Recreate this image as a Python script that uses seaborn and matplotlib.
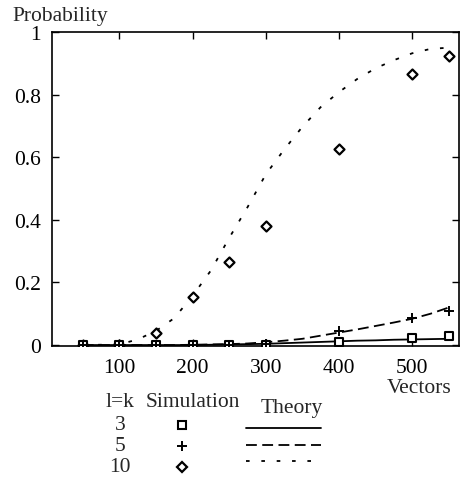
import numpy as np
import pandas as pd
import matplotlib
matplotlib.use("Agg")
import matplotlib.pyplot as plt
from matplotlib.lines import Line2D
import seaborn as sns

# ---- data ----
sim_x = [50, 100, 150, 200, 250, 300, 400, 500, 550]
sim_l3 = [0.0, 0.0, 0.0, 0.0, 0.0, 0.0, 0.010, 0.022, 0.030]
sim_l5 = [0.0, 0.0, 0.0, 0.0, 0.0, 0.003, 0.045, 0.086, 0.108]
sim_l10 = [0.0, 0.0, 0.038, 0.153, 0.265, 0.380, 0.625, 0.866, 0.923]

th_x = [50, 100, 125, 150, 175, 200, 225, 250, 275, 300, 325, 350, 375, 400,
        425, 450, 475, 500, 525, 550]
th_l3 = [0.0, 0.0, 0.0, 0.0, 0.0, 0.0, 0.001, 0.002, 0.003, 0.004, 0.006, 0.008,
         0.010, 0.012, 0.014, 0.015, 0.017, 0.018, 0.019, 0.020]
th_l5 = [0.0, 0.0, 0.0, 0.0, 0.0, 0.001, 0.002, 0.003, 0.005, 0.009, 0.014, 0.020,
         0.030, 0.040, 0.050, 0.061, 0.072, 0.084, 0.100, 0.120]
th_l10 = [0.0, 0.002, 0.018, 0.045, 0.086, 0.157, 0.238, 0.342, 0.440, 0.545,
          0.624, 0.697, 0.760, 0.808, 0.850, 0.884, 0.910, 0.932, 0.946, 0.950]

lk_labels = ["3", "5", "10"]
x_ticks = [100, 200, 300, 400, 500]
y_ticks = [0, 0.2, 0.4, 0.6, 0.8, 1]
y_tick_labels = ["0", "0.2", "0.4", "0.6", "0.8", "1"]

sim_df = pd.DataFrame({
    "Vectors": sim_x * 3,
    "Probability": sim_l3 + sim_l5 + sim_l10,
    "lk": ["3"] * len(sim_x) + ["5"] * len(sim_x) + ["10"] * len(sim_x),
})
th_df = pd.DataFrame({
    "Vectors": th_x * 3,
    "Probability": th_l3 + th_l5 + th_l10,
    "lk": ["3"] * len(th_x) + ["5"] * len(th_x) + ["10"] * len(th_x),
})

sns.set_style("ticks")
plt.rcParams["font.family"] = ["Liberation Serif", "DejaVu Serif"]

fig = plt.figure(figsize=(4.65, 4.81), dpi=100)
ax = fig.add_axes([52 / 465, 1 - 347 / 481, (459 - 52) / 465, (347 - 33) / 481])

dashes = {"3": None, "5": (6, 3), "10": (2, 6.5)}

for lk in lk_labels:
    sub = th_df[th_df["lk"] == lk]
    sns.lineplot(data=sub, x="Vectors", y="Probability", ax=ax, color="black",
                 linewidth=1.3, legend=False)
    if dashes[lk] is not None:
        ax.lines[-1].set_dashes(dashes[lk])

# draw diamonds first, then squares, then plus signs on top
for lk in ["10", "3", "5"]:
    sub = sim_df[sim_df["lk"] == lk]
    if lk == "5":
        sns.scatterplot(data=sub, x="Vectors", y="Probability", ax=ax, marker="+",
                        s=60, color="black", linewidth=1.4, legend=False, zorder=5)
    elif lk == "3":
        sns.scatterplot(data=sub, x="Vectors", y="Probability", ax=ax, marker="s",
                        s=36, facecolor="white", edgecolor="black",
                        linewidth=1.5, legend=False, zorder=5)
    else:
        sns.scatterplot(data=sub, x="Vectors", y="Probability", ax=ax, marker="D",
                        s=26, facecolor="white", edgecolor="black",
                        linewidth=1.6, legend=False, zorder=5)

ax.set_xlim(8, 564)
ax.set_ylim(-0.003, 1.0)
ax.set_xticks(x_ticks)
ax.set_yticks(y_ticks)
ax.set_yticklabels(y_tick_labels)
ax.set_xlabel("")
ax.set_ylabel("")
fs = 15.5
ax.tick_params(direction="in", length=5, width=1, top=True, right=True,
               labelsize=fs, colors="black")
ax.tick_params(axis="x", pad=9)
ax.tick_params(axis="y", pad=8)
for sp in ax.spines.values():
    sp.set_linewidth(1.2)
    sp.set_color("black")

# axis titles
fig.text(12 / 465, 1 - 17 / 481, "Probability", fontsize=fs, ha="left", va="center")
fig.text(451 / 465, 1 - 389 / 481, "Vectors", fontsize=fs, ha="right", va="center")

# custom legend table
fig.text(120 / 465, 1 - 403 / 481, "l=k", fontsize=fs, ha="center", va="center")
fig.text(193 / 465, 1 - 403 / 481, "Simulation", fontsize=fs, ha="center", va="center")
fig.text(292 / 465, 1 - 408 / 481, "Theory", fontsize=fs, ha="center", va="center")
row_y = [426, 447, 468]
line_y = [429, 446, 462]
leg_markers = [dict(marker="s", markersize=6, markerfacecolor="white", markeredgewidth=1.5),
               dict(marker="+", markersize=7, markeredgewidth=1.4),
               dict(marker="D", markersize=5, markerfacecolor="white", markeredgewidth=1.6)]
for lab, ry, ly, mkw, lk in zip(lk_labels, row_y, line_y, leg_markers, lk_labels):
    fig.text(120 / 465, 1 - ry / 481, lab, fontsize=fs, ha="center", va="center")
    fig.add_artist(Line2D([182 / 465], [1 - ry / 481], transform=fig.transFigure,
                          color="black", markeredgecolor="black",
                          linestyle="none", **mkw))
    ln = Line2D([246 / 465, 321 / 465], [1 - ly / 481, 1 - ly / 481],
                transform=fig.transFigure, color="black", linewidth=1.3)
    if dashes[lk] is not None:
        ln.set_dashes(dashes[lk])
    fig.add_artist(ln)

fig.savefig("out.png", dpi=100, facecolor="white")
